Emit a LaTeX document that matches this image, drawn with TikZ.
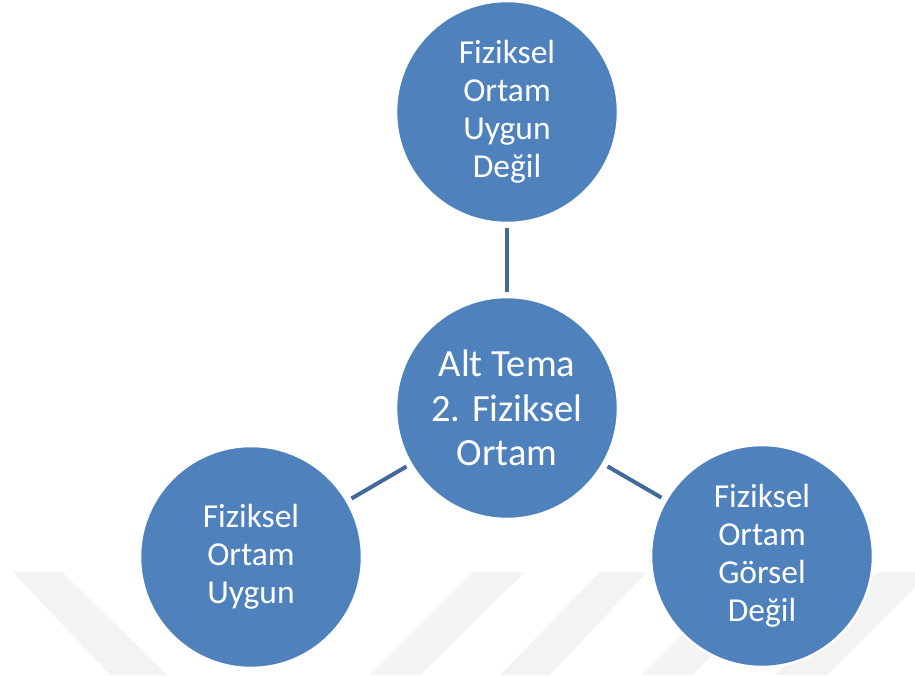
\documentclass[tikz,border=0pt]{standalone}
\usepackage{fontspec}
\setmainfont{Carlito}
\definecolor{bubble}{HTML}{4F81BD}
\definecolor{link}{HTML}{41699B}
\definecolor{stripe}{HTML}{F3F3F3}
\begin{document}
\begin{tikzpicture}[x=1pt,y=-1pt,
  bubble/.style={circle,fill=bubble,draw=white,line width=2.5pt,
    minimum size=#1,inner sep=0pt,text=white,align=center},
  outer/.style={bubble=222pt,font=\fontsize{33.5}{38}\selectfont},
  hub/.style={bubble=222pt,font=\fontsize{38.5}{44.5}\selectfont},
  link/.style={draw=link,line width=4pt,shorten <=4pt,shorten >=4pt},
  band/.style={fill=stripe,draw=none}]
\useasboundingbox (0,0) rectangle (915,675);
% faint diagonal stripes along the bottom edge
\begin{scope}
\clip (0,0) rectangle (915,675);
\fill[band] (13,572) -- (62,572) -- (167,675) -- (110,675) -- cycle;
\fill[band] (473,572) -- (525,572) -- (420,675) -- (370,675) -- cycle;
\fill[band] (600,572) -- (647,572) -- (550,675) -- (500,675) -- cycle;
\fill[band] (745,572) -- (795,572) -- (692,675) -- (642,675) -- cycle;
\fill[band] (878,572) -- (930,572) -- (827,675) -- (775,675) -- cycle;
\end{scope}
% nodes
\node[hub] (c) at (507,408) {Alt Tema\\2. Fiziksel\\Ortam};
\node[outer] (t) at (507,112) {Fiziksel\\Ortam\\Uygun\\Değil};
\node[outer] (l) at (251,557) {Fiziksel\\Ortam\\Uygun};
\node[outer] (r) at (762,556) {Fiziksel\\Ortam\\Görsel\\Değil};
% connectors
\draw[link] (c) -- (t);
\draw[link] (c) -- (l);
\draw[link] (c) -- (r);
\end{tikzpicture}
\end{document}
